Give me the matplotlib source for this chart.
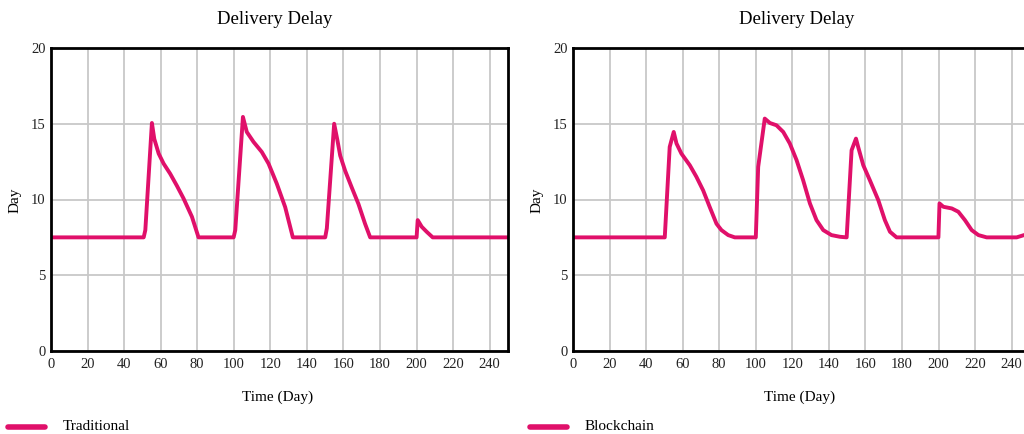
import matplotlib
matplotlib.use("Agg")
import matplotlib.pyplot as plt
from matplotlib.lines import Line2D

plt.rcParams['font.family'] = ['Liberation Serif', 'DejaVu Serif']

# Traditional series (time, delivery delay)
trad_t = [0, 50.7, 51.6, 55.2, 56.5, 58.9, 61.6, 65.2, 68.9, 72.5, 77.1, 80.7,
          99.9, 100.8, 105.0, 107.1, 110.8, 115.3, 119.0, 123.5, 128.1, 132.3,
          150.0, 150.9, 154.9, 156.7, 158.2, 160.9, 164.5, 168.2, 171.8, 174.6,
          200.0, 200.6, 202.8, 205.5, 208.8, 250]
trad_v = [7.5, 7.5, 7.98, 15.05, 14.0, 13.03, 12.37, 11.7, 10.9, 10.07, 8.86, 7.5,
          7.5, 7.98, 15.45, 14.46, 13.8, 13.14, 12.37, 11.05, 9.5, 7.5,
          7.5, 8.1, 15.0, 13.9, 12.9, 11.9, 10.8, 9.7, 8.4, 7.5,
          7.5, 8.64, 8.2, 7.87, 7.5, 7.5]

# Blockchain series (time, delivery delay)
bc_t = [0, 50.2, 52.9, 55.1, 56.6, 59.3, 63.9, 67.5, 71.2, 74.8, 78.5, 81.2, 84.9, 88.5,
        100.0, 101.3, 104.9, 107.7, 111.3, 115.0, 118.6, 122.3, 125.9, 129.6, 133.2,
        136.9, 141.4, 146.0, 149.7, 152.4, 154.8, 156.0, 158.8, 162.4, 167.0, 170.6,
        173.4, 177.0, 199.9, 200.5, 202.6, 207.2, 210.8, 214.4, 218.1, 221.8, 226.3,
        242.7, 246.7, 250]
bc_v = [7.5, 7.5, 13.47, 14.46, 13.7, 13.03, 12.26, 11.5, 10.6, 9.5, 8.4, 7.98, 7.65, 7.5,
        7.5, 12.15, 15.34, 15.05, 14.9, 14.46, 13.7, 12.6, 11.27, 9.74, 8.64,
        7.98, 7.65, 7.54, 7.5, 13.25, 14.02, 13.47, 12.26, 11.27, 9.96, 8.64,
        7.87, 7.5, 7.5, 9.74, 9.52, 9.41, 9.19, 8.64, 7.98, 7.65, 7.5,
        7.5, 7.65, 7.7]

xticks = list(range(0, 241, 20))
yticks = [0, 5, 10, 15, 20]
title = "Delivery Delay"
xlabel = "Time (Day)"
ylabel = "Day"
names = ["Traditional", "Blockchain"]

color = "#E0106A"
W, H = 1024, 434
fig = plt.figure(figsize=(W / 100, H / 100), dpi=100)

def fx(px):
    return px / W

def fy(py):
    return 1 - py / H

panels = [(51, trad_t, trad_v, names[0]), (573, bc_t, bc_v, names[1])]
for left, t, v, name in panels:
    ax = fig.add_axes([fx(left), fy(351), fx(457), 303 / H])
    ax.plot(t, v, color=color, lw=2.8, solid_joinstyle='round')
    ax.set_xlim(0, 250)
    ax.set_ylim(0, 20)
    ax.set_xticks(xticks)
    ax.set_yticks(yticks)
    ax.grid(True, color="#c8c8c8", lw=1.3)
    ax.set_axisbelow(True)
    for s in ax.spines.values():
        s.set_linewidth(2.0)
        s.set_color("black")
    ax.tick_params(length=0, labelsize=10.5, colors="#222222")
    ax.tick_params(axis='x', pad=5)
    ax.tick_params(axis='y', pad=4)
    cx = left + 228
    fig.text(fx(cx - 4), fy(20), title, ha="center", va="center", fontsize=13.5)
    fig.text(fx(cx - 1), fy(397), xlabel, ha="center", va="center", fontsize=11)
    fig.text(fx(left - 36), fy(200), ylabel, ha="center", va="center", fontsize=11,
             rotation=90)
    fig.add_artist(Line2D([fx(left - 43), fx(left - 6)], [fy(427), fy(427)],
                          color=color, lw=4, solid_capstyle='round'))
    fig.text(fx(left + 12), fy(427), name, ha="left", va="center", fontsize=11)

fig.savefig("out.png", dpi=100)
